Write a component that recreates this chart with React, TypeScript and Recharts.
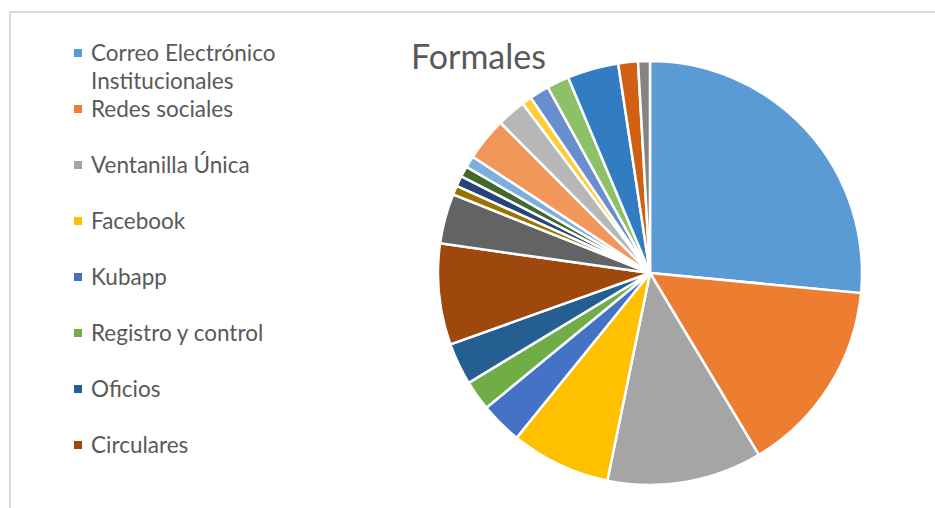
import React from 'react';
import { PieChart, Pie, Cell } from 'recharts';

const categories = [
  'Correo Electrónico Institucionales',
  'Redes sociales',
  'Ventanilla Única',
  'Facebook',
  'Kubapp',
  'Registro y control',
  'Oficios',
  'Circulares',
  'Categoría 9',
  'Categoría 10',
  'Categoría 11',
  'Categoría 12',
  'Categoría 13',
  'Categoría 14',
  'Categoría 15',
  'Categoría 16',
  'Categoría 17',
  'Categoría 18',
  'Categoría 19',
  'Categoría 20',
  'Categoría 21',
];

const values = [
  26.5, 14.9, 11.8, 7.6, 3.2, 2.3, 3.2, 7.7, 3.8, 0.7, 0.8,
  0.8, 0.9, 3.3, 2.2, 0.75, 1.5, 1.7, 3.9, 1.5, 0.9,
];

const colors = [
  '#5B9BD5', '#ED7D31', '#A5A5A5', '#FFC000', '#4472C4', '#70AD47',
  '#255E91', '#9E480E', '#636363', '#997300', '#264478', '#43682B',
  '#7CAFDD', '#F1975A', '#B7B7B7', '#FFCD33', '#698ED0', '#8CC168',
  '#327DC2', '#D26012', '#848484',
];

// Excel only had room for the first 8 entries in the legend
const legendCount = 8;

const data = categories.map((name, i) => ({ name, value: values[i] }));

const FONT = 'Lato, "Open Sans", sans-serif';

const App: React.FC = () => {
  return (
    <div style={{ position: 'absolute', left: 0, top: 0, width: 935, height: 508, overflow: 'hidden', background: '#fff' }}>
      <div
        style={{
          position: 'absolute',
          left: 9,
          top: 11,
          width: 1000,
          height: 600,
          border: '2px solid #D9D9D9',
          boxSizing: 'border-box',
        }}
      />
      <div
        style={{
          position: 'absolute',
          left: 411,
          top: 34.3,
          fontFamily: FONT,
          fontSize: 34,
          lineHeight: '43px',
          color: '#595959',
          whiteSpace: 'nowrap',
        }}
      >
        Formales
      </div>
      <div style={{ position: 'absolute', left: 0, top: 0 }}>
        <PieChart width={935} height={508} margin={{ top: 0, right: 0, bottom: 0, left: 0 }}>
          <Pie
            data={data}
            dataKey="value"
            nameKey="name"
            cx={650}
            cy={273}
            outerRadius={212}
            startAngle={90}
            endAngle={-270}
            stroke="#FFFFFF"
            strokeWidth={2.5}
            isAnimationActive={false}
          >
            {data.map((d, i) => (
              <Cell key={d.name} fill={colors[i]} />
            ))}
          </Pie>
        </PieChart>
      </div>
      {categories.slice(0, legendCount).map((name, i) => (
        <div key={name} style={{ position: 'absolute', left: 0, top: 38.85 + 56 * i, height: 56 }}>
          <div
            style={{
              position: 'absolute',
              left: 73.5,
              top: 10.5,
              width: 8,
              height: 8,
              background: colors[i],
            }}
          />
          <div
            style={{
              position: 'absolute',
              left: 91,
              top: 0,
              width: 240,
              fontFamily: FONT,
              fontSize: 22.5,
              lineHeight: '28.3px',
              color: '#595959',
            }}
          >
            {name}
          </div>
        </div>
      ))}
    </div>
  );
};

export default App;
